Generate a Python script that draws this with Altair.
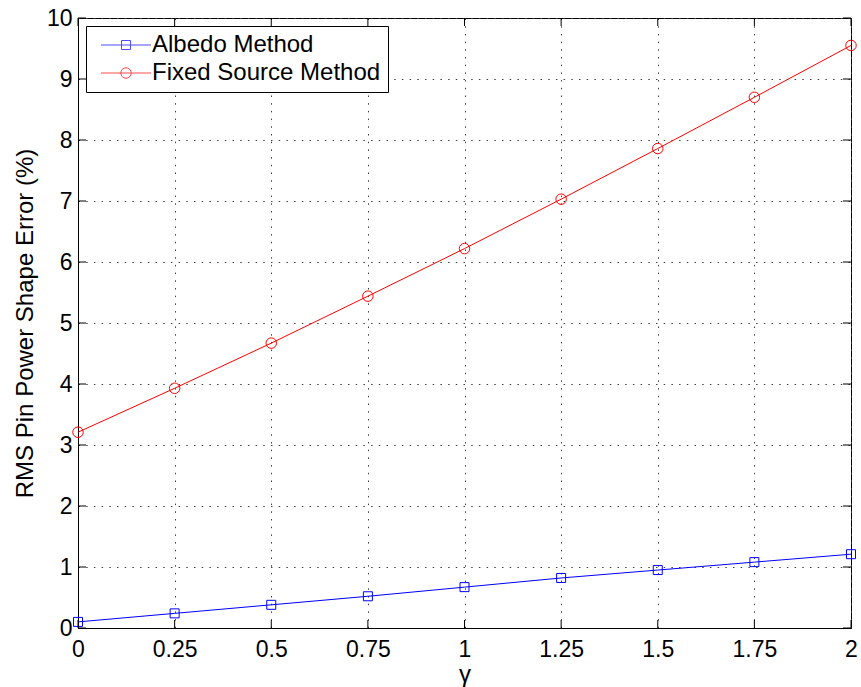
import altair as alt
import pandas as pd

# Source values
gamma = [0.0, 0.25, 0.5, 0.75, 1.0, 1.25, 1.5, 1.75, 2.0]
albedo = [0.10, 0.24, 0.38, 0.52, 0.67, 0.82, 0.95, 1.08, 1.21]
fixed_source = [3.21, 3.93, 4.67, 5.44, 6.22, 7.03, 7.86, 8.70, 9.55]
series_names = ["Albedo Method", "Fixed Source Method"]
series_colors = ["#0000ff", "#ff0000"]
x_ticks = [0.0, 0.25, 0.5, 0.75, 1.0, 1.25, 1.5, 1.75, 2.0]
y_ticks = [0, 1, 2, 3, 4, 5, 6, 7, 8, 9, 10]

FONT = "Liberation Sans"
W, H = 773, 610
TICK = 8

df = pd.DataFrame(
    {
        "gamma": gamma * 2,
        "value": albedo + fixed_source,
        "method": [series_names[0]] * len(gamma) + [series_names[1]] * len(gamma),
    }
)
xt_df = pd.DataFrame({"t": x_ticks})
yt_df = pd.DataFrame({"t": y_ticks})

x_scale = alt.Scale(domain=[0, 2], nice=False, zero=False)
y_scale = alt.Scale(domain=[0, 10], nice=False, zero=False)

main_x_axis = alt.Axis(
    values=x_ticks, format=".3~g", title="γ", labelFlush=False, labelOverlap=False,
    ticks=False, grid=True, labelPadding=10, titlePadding=1,
)
main_y_axis = alt.Axis(
    values=y_ticks, format="d", title="RMS Pin Power Shape Error (%)", labelFlush=False,
    labelOverlap=False, ticks=False, grid=True, labelPadding=6, titlePadding=9,
)


def X(field):
    return alt.X(field, type="quantitative", scale=x_scale, axis=main_x_axis)


def Y(field):
    return alt.Y(field, type="quantitative", scale=y_scale, axis=main_y_axis)


base = alt.Chart(df)


def series(name, color, shape, size):
    sub = base.transform_filter(alt.datum.method == name)
    line = sub.mark_line(strokeWidth=1, color=color).encode(x=X("gamma"), y=Y("value"))
    pts = sub.mark_point(shape=shape, size=size, filled=False, color=color,
                         strokeWidth=1, opacity=1).encode(x=X("gamma"), y=Y("value"))
    return [line, pts]


albedo_layers = series(series_names[0], series_colors[0], "square", 81)
fixed_layers = series(series_names[1], series_colors[1], "circle", 110)

# Inward tick marks on all four sides of the box
tick_style = dict(color="black", strokeWidth=1)
ticks_bottom = alt.Chart(xt_df).mark_rule(**tick_style).encode(
    x=X("t"), y=alt.value(H), y2=alt.value(H - TICK))
ticks_top = alt.Chart(xt_df).mark_rule(**tick_style).encode(
    x=X("t"), y=alt.value(0), y2=alt.value(TICK))
ticks_left = alt.Chart(yt_df).mark_rule(**tick_style).encode(
    y=Y("t"), x=alt.value(0), x2=alt.value(TICK))
ticks_right = alt.Chart(yt_df).mark_rule(**tick_style).encode(
    y=Y("t"), x=alt.value(W), x2=alt.value(W - TICK))

# Legend: each entry is a line with its marker, drawn as a custom symbol path.
# The nominal symbol is 20px; the line part reaches 25px either side of centre.
sq_path = "M-2.5,0H2.5M-0.45,-0.45H0.45V0.45H-0.45Z"
ci_path = "M-2.5,0H2.5M0.525,0A0.525,0.525,0,1,1,-0.525,0A0.525,0.525,0,1,1,0.525,0Z"
legend_def = alt.Legend(
    title=None, orient="none", legendX=8, legendY=8, symbolSize=400,
    symbolOffset=21, symbolStrokeWidth=1, symbolFillColor="transparent", labelLimit=0,
    labelFont=FONT, labelFontSize=24, labelColor="black", labelOffset=14,
    strokeColor="black", fillColor="white", padding=7, rowPadding=4,
)
legend_layer = base.transform_filter("datum.value < 0").mark_point(filled=False).encode(
    x=X("gamma"),
    y=Y("value"),
    color=alt.Color("method:N", scale=alt.Scale(domain=series_names, range=series_colors), legend=legend_def),
    shape=alt.Shape("method:N", scale=alt.Scale(domain=series_names, range=[sq_path, ci_path]), legend=legend_def),
)

chart = (
    alt.layer(*albedo_layers, *fixed_layers, ticks_bottom, ticks_top, ticks_left, ticks_right, legend_layer)
    .properties(
        width=W, height=H,
        autosize=alt.AutoSizeParams(type="none"),
        padding={"left": 78, "top": 18, "right": 10, "bottom": 59},
        background="white",
    )
    .configure_view(stroke="black", strokeWidth=1)
    .configure_axis(
        domainColor="black", domainWidth=1,
        gridColor="#404040", gridDash=[1.5, 6.2], gridWidth=1, gridOpacity=1,
        labelFont=FONT, labelFontSize=23, labelColor="black",
        titleFont=FONT, titleFontSize=24, titleFontWeight="normal", titleColor="black",
    )
)

chart.save("out.html", embed_options={"renderer": "svg", "actions": False})
